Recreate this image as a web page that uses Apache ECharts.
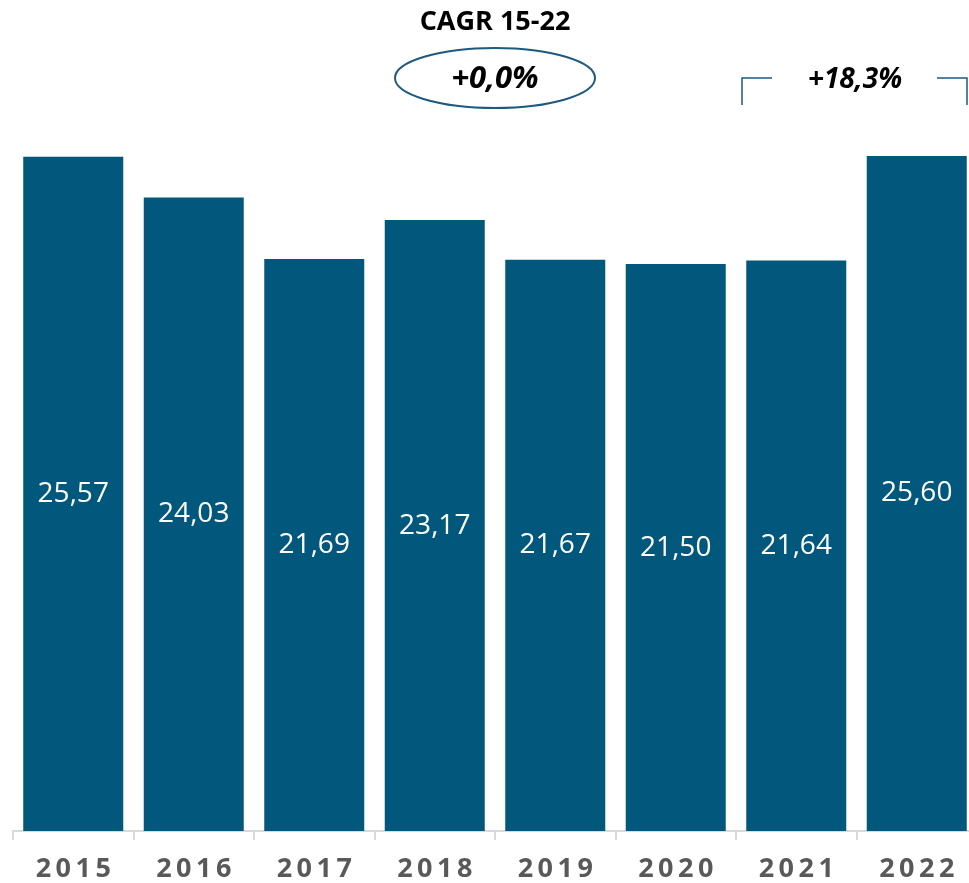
<!DOCTYPE html>
<html>
<head>
<meta charset="utf-8">
<script src="https://cdn.jsdelivr.net/npm/echarts@6/dist/echarts.min.js"></script>
<style>
    html, body { margin: 0; padding: 0; background: #fff; }
    #chart { width: 969px; height: 883px; }
</style>
</head>
<body>
<div id="chart"></div>
<script>
    const years = ['2015', '2016', '2017', '2018', '2019', '2020', '2021', '2022'];
    const values = [25.57, 24.03, 21.69, 23.17, 21.67, 21.50, 21.64, 25.60];
    const cagrTitle = 'CAGR 15-22';
    const cagrValue = '+0,0%';
    const lastGrowth = '+18,3%';

    const barColor = '#02587c';
    const lineColor = '#1d5a80';
    const font = '"Open Sans", "Noto Sans", sans-serif';

    function spaced(s) {
        return s.split('').join('\u2009');
    }

    const chart = echarts.init(document.getElementById('chart'));
    chart.setOption({
        backgroundColor: '#ffffff',
        animation: false,
        grid: { left: 13, top: 40, width: 964, height: 791, outerBoundsMode: 'none' },
        xAxis: {
            type: 'category',
            data: years,
            axisLine: { lineStyle: { color: '#d9d9d9', width: 2 } },
            axisTick: { show: true, length: 9, lineStyle: { color: '#d9d9d9', width: 2 } },
            axisLabel: {
                margin: 25,
                color: '#595959',
                fontSize: 27,
                fontWeight: 'bold',
                fontFamily: font,
                formatter: (v) => spaced(v),
            },
        },
        yAxis: {
            type: 'value',
            min: 0,
            max: 30,
            show: false,
            splitLine: { show: false },
        },
        series: [
            {
                type: 'bar',
                data: values,
                barCategoryGap: '17%',
                itemStyle: { color: barColor },
                label: {
                    show: true,
                    position: 'inside',
                    color: '#ffffff',
                    fontSize: 28,
                    fontFamily: font,
                    formatter: (p) => p.value.toFixed(2).replace('.', ','),
                },
            },
        ],
        graphic: [
            {
                type: 'text',
                x: 495,
                y: 22,
                style: {
                    text: cagrTitle,
                    fill: '#000',
                    font: 'bold 27px ' + font,
                    align: 'center',
                    verticalAlign: 'middle',
                },
            },
            {
                type: 'ellipse',
                shape: { cx: 495, cy: 78, rx: 100, ry: 30 },
                style: { fill: 'none', stroke: lineColor, lineWidth: 2 },
            },
            {
                type: 'text',
                x: 495,
                y: 79,
                style: {
                    text: cagrValue,
                    fill: '#000',
                    font: 'italic bold 31px ' + font,
                    align: 'center',
                    verticalAlign: 'middle',
                },
            },
            {
                type: 'polyline',
                shape: { points: [[742, 105], [742, 78], [772, 78]] },
                style: { fill: 'none', stroke: lineColor, lineWidth: 1.5 },
            },
            {
                type: 'polyline',
                shape: { points: [[937, 78], [967, 78], [967, 105]] },
                style: { fill: 'none', stroke: lineColor, lineWidth: 1.5 },
            },
            {
                type: 'text',
                x: 855,
                y: 80,
                style: {
                    text: lastGrowth,
                    fill: '#000',
                    font: 'italic bold 28px ' + font,
                    align: 'center',
                    verticalAlign: 'middle',
                },
            },
        ],
    });
</script>
</body>
</html>
